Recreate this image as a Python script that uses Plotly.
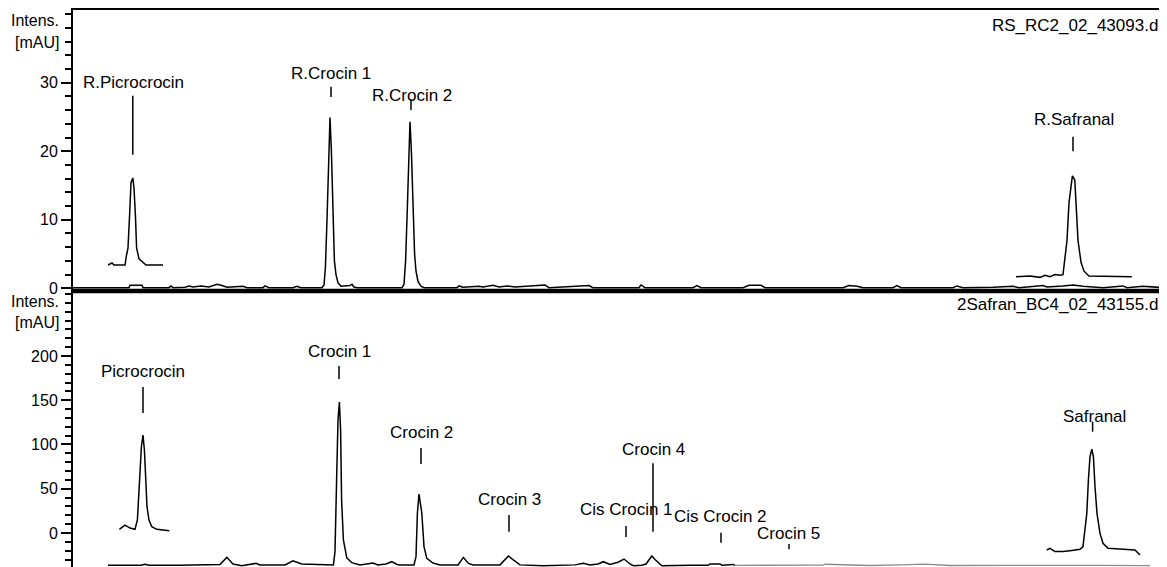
import plotly.graph_objects as go

# ---------------- data (retention time in min, intensity in mAU) ----------------
# Top panel: reference standard run RS_RC2_02_43093.d
ref_main_t = [0.0, 2.8, 2.85, 3.45, 3.5, 4.8, 4.9, 5.0, 5.6, 5.8, 6.0, 6.4, 6.8, 7.0, 7.2, 7.45, 7.7,
              8.5, 8.7, 9.5, 9.6, 9.8, 11.0, 11.2, 11.4, 12.2, 12.45, 12.55, 12.62, 12.7, 12.78, 12.85,
              12.92, 13.0, 13.07, 13.15, 13.25, 13.4, 13.85, 13.95, 14.05, 14.2, 15.5, 16.45, 16.55,
              16.63, 16.72, 16.8, 16.85, 16.92, 17.0, 17.08, 17.15, 17.25, 17.4, 17.55, 19.2, 19.3,
              19.5, 20.3, 20.5, 21.0, 21.3, 21.7, 22.1, 23.4, 23.6, 23.8, 25.8, 26.0, 28.3, 28.4,
              28.6, 31.0, 31.2, 31.4, 33.5, 33.8, 34.4, 34.6, 38.5, 38.8, 39.2, 39.5, 41.0, 41.2,
              41.4, 44.0, 44.2, 44.5, 46.0, 47.0, 47.3, 48.5, 48.7, 49.5, 50.0, 50.5, 51.5, 52.5,
              52.7, 53.5, 54.5]
ref_main_v = [0.1, 0.1, 0.45, 0.45, 0.1, 0.1, 0.35, 0.1, 0.15, 0.35, 0.2, 0.35, 0.2, 0.4, 0.6, 0.4, 0.15,
              0.3, 0.1, 0.1, 0.35, 0.1, 0.1, 0.3, 0.1, 0.1, 0.1, 0.5, 3.0, 10.0, 20.0, 24.9,
              20.0, 10.0, 4.0, 2.0, 0.8, 0.3, 0.4, 0.6, 0.2, 0.1, 0.1, 0.1, 0.6,
              4.0, 12.0, 21.0, 24.3, 20.0, 11.0, 5.0, 2.5, 1.0, 0.3, 0.1, 0.1, 0.35,
              0.15, 0.3, 0.2, 0.45, 0.2, 0.35, 0.2, 0.5, 0.5, 0.1, 0.4, 0.1, 0.1, 0.5,
              0.1, 0.1, 0.4, 0.1, 0.1, 0.45, 0.45, 0.1, 0.1, 0.4, 0.3, 0.1, 0.1, 0.4,
              0.1, 0.1, 0.35, 0.1, 0.15, 0.3, 0.1, 0.4, 0.2, 0.35, 0.5, 0.3, 0.1, 0.35,
              0.1, 0.3, 0.1]

ref_picro_t = [1.75, 1.95, 2.05, 2.6, 2.68, 2.75, 2.83, 2.9, 2.99, 3.05, 3.12, 3.18, 3.3, 3.5, 3.65, 4.5]
ref_picro_v = [3.4, 3.7, 3.4, 3.4, 4.9, 5.9, 10.7, 15.4, 16.1, 14.6, 10.7, 5.9, 4.3, 3.7, 3.4, 3.4]

ref_safr_t = [47.15, 47.85, 48.35, 48.6, 48.85, 49.1, 49.35, 49.5, 49.7, 49.8, 49.97, 50.09, 50.15,
              50.25, 50.4, 50.55, 50.8, 52.94]
ref_safr_v = [1.7, 1.8, 1.6, 1.9, 1.7, 2.0, 1.9, 2.0, 7.0, 12.5, 16.4, 15.8, 12.5,
              7.0, 3.8, 2.5, 1.8, 1.7]

ref_labels = ["R.Picrocrocin", "R.Crocin 1", "R.Crocin 2", "R.Safranal"]
ref_label_t = [3.0, 12.9, 16.95, 50.05]
ref_label_v = [30.0, 31.4, 28.2, 24.6]
ref_mark_t = [2.99, 12.9, 16.9, 50.0]
ref_mark_top = [28.1, 29.4, 27.6, 22.1]
ref_mark_bot = [19.5, 27.9, 26.0, 20.0]

# Bottom panel: saffron sample 2Safran_BC4_02_43155.d
smp_main_t = [1.75, 3.4, 3.6, 3.8, 5.35, 7.1, 7.35, 7.69, 8.0, 8.44, 9.15, 9.35, 10.6, 11.0, 11.44,
              13.02, 13.1, 13.18, 13.25, 13.32, 13.38, 13.43, 13.52, 13.69, 13.94, 14.35, 15.0,
              15.25, 15.65, 15.94, 16.2, 16.35, 17.05, 17.15, 17.22, 17.3, 17.44, 17.55, 17.69,
              18.0, 18.35, 19.25, 19.52, 19.77, 20.0, 21.35, 21.77, 22.05, 22.35, 23.5, 25.1,
              25.52, 25.85, 26.25, 26.52, 26.85, 27.25, 27.55, 27.85, 28.02, 28.44, 28.65, 28.94,
              29.1, 29.44, 30.85, 31.75, 31.85, 32.35, 32.45, 32.75, 33.0, 33.1,
              36.35, 37.5, 37.6, 39.85, 41.35, 42.5, 42.6, 43.85, 46.35, 48.35, 51.35, 53.85]
smp_main_v = [-36.5, -36.5, -35.2, -36.5, -36.5, -36.0, -35.5, -27.5, -35.0, -37.0, -34.3, -36.0, -36.0, -31.3, -35.0,
              -36.0, -21.0, 59.9, 127.7, 148.0, 116.4, 37.3, -7.9, -28.0, -33.5, -36.0, -34.0,
              -36.0, -35.0, -32.4, -35.5, -36.0, -36.0, -26.7, 22.6, 44.0, 22.6, -15.4, -28.6,
              -33.9, -36.0, -36.0, -27.5, -34.3, -36.0, -36.0, -26.0, -31.0, -36.0, -37.0, -36.0,
              -34.3, -36.0, -35.0, -32.4, -35.5, -33.0, -29.4, -35.0, -37.0, -36.5, -35.0, -26.0,
              -30.0, -37.0, -36.5, -36.5, -35.0, -35.0, -36.5, -35.5, -35.5, -36.5,
              -36.3, -36.3, -35.3, -36.7, -36.0, -36.0, -35.2, -36.7, -36.2, -36.5, -36.5, -36.8]

smp_picro_t = [2.32, 2.6, 2.85, 3.1, 3.22, 3.29, 3.35, 3.42, 3.5, 3.57, 3.64, 3.7, 3.8, 3.94, 4.19, 4.82]
smp_picro_v = [4.2, 9.0, 5.6, 4.2, 14.7, 45.2, 74.9, 97.5, 110.7, 93.8, 59.9, 29.7, 14.7, 7.1, 4.2, 2.6]

smp_safr_t = [48.69, 48.85, 49.1, 49.5, 49.85, 50.35, 50.5, 50.69, 50.77, 50.85, 50.94, 51.02, 51.1,
              51.2, 51.35, 51.5, 51.75, 52.35, 53.1, 53.35]
smp_safr_v = [-19.2, -17.3, -21.0, -21.0, -20.0, -18.4, -15.4, 22.2, 59.9, 86.2, 94.6, 86.2, 52.3,
              22.2, -0.4, -11.6, -17.3, -18.4, -19.2, -24.9]

smp_labels = ["Picrocrocin", "Crocin 1", "Crocin 2", "Crocin 3", "Cis Crocin 1", "Crocin 4",
              "Cis Crocin 2", "Crocin 5", "Safranal"]
smp_label_t = [3.5, 13.3, 17.4, 21.8, 27.68, 29.0, 32.35, 35.77, 51.05]
smp_label_v = [182.3, 204.5, 114.0, 38.1, 26.0, 94.6, 18.4, -0.4, 131.4]
smp_mark_t = [3.5, 13.3, 17.4, 21.8, 27.65, 29.0, 32.4, 35.8, 50.98]
smp_mark_top = [165.0, 188.7, 96.0, 20.3, 7.9, 78.8, 0.3, -12.4, 125.8]
smp_mark_bot = [135.6, 174.0, 78.0, 1.5, -4.5, 1.5, -11.0, -18.4, 114.5]

ref_ticks = [0, 10, 20, 30]
smp_ticks = [0, 50, 100, 150, 200]
ref_file = "RS_RC2_02_43093.d"
smp_file = "2Safran_BC4_02_43155.d"

# ---------------- figure ----------------
FONT = "Arial, Liberation Sans, sans-serif"
FS = 17
BLK = "#000000"
split = 0.4955


def marks(ts, tops, bots):
    xs, ys = [], []
    for t, a, b in zip(ts, tops, bots):
        xs += [t, t, None]
        ys += [a, b, None]
    return xs, ys


fig = go.Figure()
line = dict(color=BLK, width=1.5)

fig.add_trace(go.Scatter(x=ref_main_t, y=ref_main_v, mode="lines", line=line, xaxis="x", yaxis="y"))
fig.add_trace(go.Scatter(x=ref_picro_t, y=ref_picro_v, mode="lines", line=line, xaxis="x", yaxis="y"))
fig.add_trace(go.Scatter(x=ref_safr_t, y=ref_safr_v, mode="lines", line=line, xaxis="x", yaxis="y"))
mx, my = marks(ref_mark_t, ref_mark_top, ref_mark_bot)
fig.add_trace(go.Scatter(x=mx, y=my, mode="lines", line=dict(color=BLK, width=1.5), xaxis="x", yaxis="y"))

# sample chromatogram: dark in the peak region, lighter along the flat tail
cut = next(i for i, t in enumerate(smp_main_t) if t >= 33.1)
fig.add_trace(go.Scatter(x=smp_main_t[:cut + 1], y=smp_main_v[:cut + 1], mode="lines", line=line,
                         xaxis="x2", yaxis="y2"))
fig.add_trace(go.Scatter(x=smp_main_t[cut:], y=smp_main_v[cut:], mode="lines",
                         line=dict(color="#8c8c8c", width=1.3), xaxis="x2", yaxis="y2"))
fig.add_trace(go.Scatter(x=smp_picro_t, y=smp_picro_v, mode="lines", line=line, xaxis="x2", yaxis="y2"))
fig.add_trace(go.Scatter(x=smp_safr_t, y=smp_safr_v, mode="lines", line=line, xaxis="x2", yaxis="y2"))
mx, my = marks(smp_mark_t, smp_mark_top, smp_mark_bot)
fig.add_trace(go.Scatter(x=mx, y=my, mode="lines", line=dict(color=BLK, width=1.5), xaxis="x2", yaxis="y2"))

ann = []
for txt, t, v in zip(ref_labels, ref_label_t, ref_label_v):
    ann.append(dict(x=t, y=v, xref="x", yref="y", text=txt, showarrow=False,
                    xanchor="center", yanchor="middle", font=dict(size=FS, color=BLK, family=FONT)))
for txt, t, v in zip(smp_labels, smp_label_t, smp_label_v):
    ann.append(dict(x=t, y=v, xref="x2", yref="y2", text=txt, showarrow=False,
                    xanchor="center", yanchor="middle", font=dict(size=FS, color=BLK, family=FONT)))

for ytop, ybot in [(0.982, 0.9408), (0.4765, 0.4385)]:
    ann.append(dict(x=-0.011, y=ytop, xref="paper", yref="paper", text="Intens.", showarrow=False,
                    xanchor="right", yanchor="middle", font=dict(size=16, color=BLK, family=FONT)))
    ann.append(dict(x=-0.011, y=ybot, xref="paper", yref="paper", text="[mAU]", showarrow=False,
                    xanchor="right", yanchor="middle", font=dict(size=16, color=BLK, family=FONT)))
ann.append(dict(x=0.9975, y=0.973, xref="paper", yref="paper", text=ref_file, showarrow=False,
                xanchor="right", yanchor="middle", font=dict(size=FS, color=BLK, family=FONT)))
ann.append(dict(x=0.9975, y=0.4704, xref="paper", yref="paper", text=smp_file, showarrow=False,
                xanchor="right", yanchor="middle", font=dict(size=FS, color=BLK, family=FONT)))

yax_common = dict(showline=True, mirror=True, linecolor=BLK, linewidth=2, ticks="outside",
                  ticklen=10, tickwidth=1.5, tickcolor=BLK, showgrid=False, zeroline=False,
                  automargin=False,
                  tickfont=dict(size=16, color=BLK, family=FONT), tickmode="array")

# the page body keeps the browser's default 8px margin, so the figure is drawn 8px
# in from the top-left corner; size it so the plot area lands where the reference has it
fig.update_layout(
    template="none",
    width=1159, height=559,
    margin=dict(l=65, r=4, t=2, b=0, pad=0, autoexpand=False),
    paper_bgcolor="white", plot_bgcolor="white",
    showlegend=False,
    xaxis=dict(domain=[0, 1], range=[0, 54.5], anchor="y", showline=True, mirror=True,
               linecolor=BLK, linewidth=2, showticklabels=False, ticks="", showgrid=False,
               zeroline=False, automargin=False),
    xaxis2=dict(domain=[0, 1], range=[0, 54.5], anchor="y2", matches="x", showline=False,
                showticklabels=False, ticks="", showgrid=False, zeroline=False, automargin=False),
    yaxis=dict(domain=[split, 1], range=[-0.39, 40.6], anchor="x", tickvals=ref_ticks,
               minor=dict(tickmode="linear", tick0=0, dtick=2, ticks="outside", ticklen=6,
                          tickwidth=1.5, tickcolor=BLK, showgrid=False),
               **yax_common),
    yaxis2=dict(domain=[0, split], range=[-38.4, 273.4], anchor="x2", tickvals=smp_ticks,
                minor=dict(tickmode="linear", tick0=0, dtick=10, ticks="outside", ticklen=6,
                           tickwidth=1.5, tickcolor=BLK, showgrid=False),
                **yax_common),
    annotations=ann,
    shapes=[dict(type="line", xref="paper", yref="paper", x0=0, x1=1, y0=split, y1=split,
                 line=dict(color=BLK, width=4.5))],
)

fig.write_html("out.html")
